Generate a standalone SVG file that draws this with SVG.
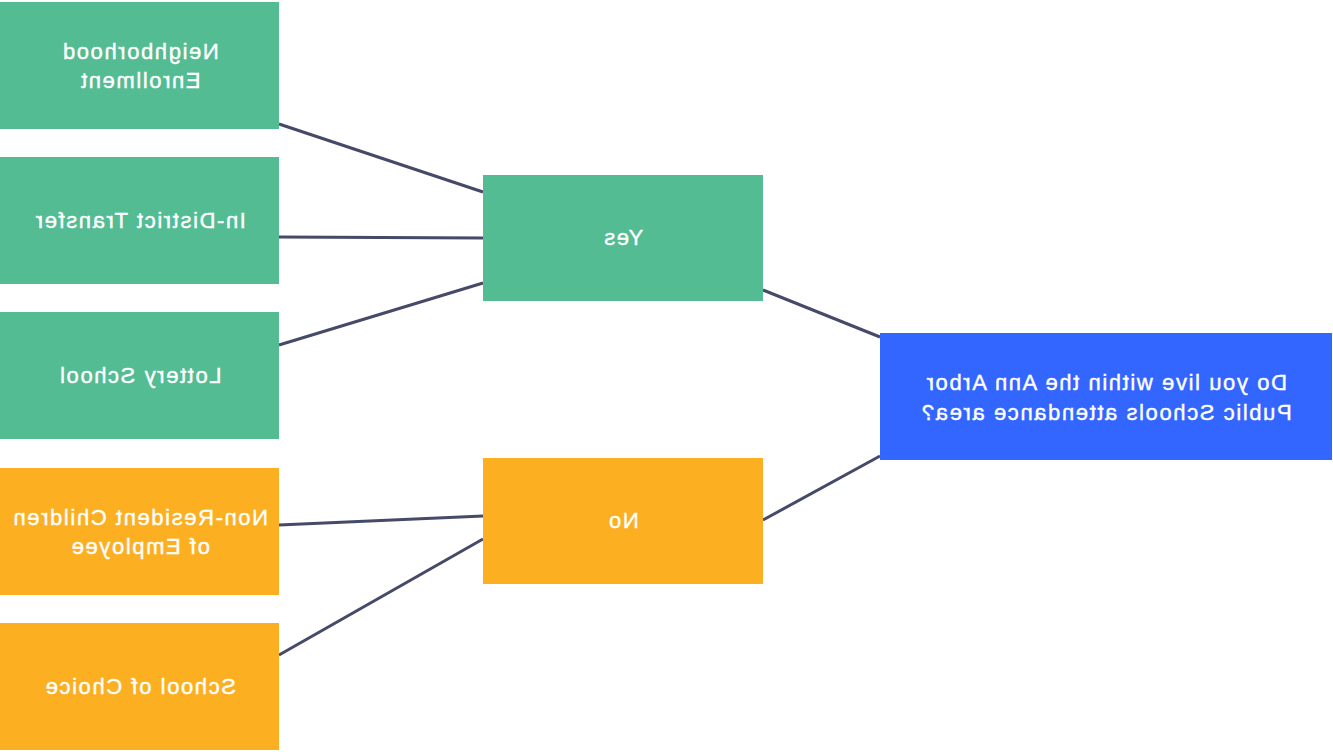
<svg xmlns="http://www.w3.org/2000/svg" width="1333" height="752" viewBox="0 0 1333 752">
<style>
.g{fill:#53bc93}
.o{fill:#fdaf22}
.b{fill:#3366ff}
.t{font-family:"Liberation Sans",Arial,sans-serif;font-size:22px;fill:#ffffff;stroke:#ffffff;stroke-width:0.4px;text-anchor:middle;letter-spacing:1.6px}
.c{stroke:#454a68;stroke-width:3;fill:none}
</style>
<rect width="1333" height="752" fill="#ffffff"/>
<g id="connectors">
<line class="c" x1="279" y1="124" x2="483" y2="192"/>
<line class="c" x1="279" y1="237" x2="483" y2="238"/>
<line class="c" x1="279" y1="345" x2="483" y2="283"/>
<line class="c" x1="279" y1="525" x2="483" y2="516"/>
<line class="c" x1="279" y1="655" x2="483" y2="539"/>
<line class="c" x1="763" y1="290" x2="880" y2="337"/>
<line class="c" x1="763" y1="520" x2="880" y2="456"/>
</g>
<g id="n1"><rect class="g" x="0" y="2" width="279" height="127"/>
<text class="t" transform="translate(280,0) scale(-1,1)" x="140" y="59">Neighborhood</text>
<text class="t" transform="translate(280,0) scale(-1,1)" x="140" y="88">Enrollment</text></g>
<g id="n2"><rect class="g" x="0" y="157" width="279" height="127"/>
<text class="t" transform="translate(280,0) scale(-1,1)" x="140" y="228">In-District Transfer</text></g>
<g id="n3"><rect class="g" x="0" y="312" width="279" height="127"/>
<text class="t" transform="translate(280,0) scale(-1,1)" x="140" y="383">Lottery School</text></g>
<g id="n4"><rect class="o" x="0" y="468" width="279" height="127"/>
<text class="t" transform="translate(280,0) scale(-1,1)" x="140" y="525">Non-Resident Children</text>
<text class="t" transform="translate(280,0) scale(-1,1)" x="140" y="554">of Employee</text></g>
<g id="n5"><rect class="o" x="0" y="623" width="279" height="127"/>
<text class="t" transform="translate(280,0) scale(-1,1)" x="140" y="694">School of Choice</text></g>
<g id="yes"><rect class="g" x="483" y="175" width="280" height="126"/>
<text class="t" transform="translate(1246,0) scale(-1,1)" x="623" y="245">Yes</text></g>
<g id="no"><rect class="o" x="483" y="458" width="280" height="126"/>
<text class="t" transform="translate(1246,0) scale(-1,1)" x="623" y="528">No</text></g>
<g id="q"><rect class="b" x="880" y="333" width="452" height="127"/>
<text class="t" transform="translate(2212,0) scale(-1,1)" x="1106" y="390">Do you live within the Ann Arbor</text>
<text class="t" transform="translate(2212,0) scale(-1,1)" x="1106" y="420">Public Schools attendance area?</text></g>
</svg>
